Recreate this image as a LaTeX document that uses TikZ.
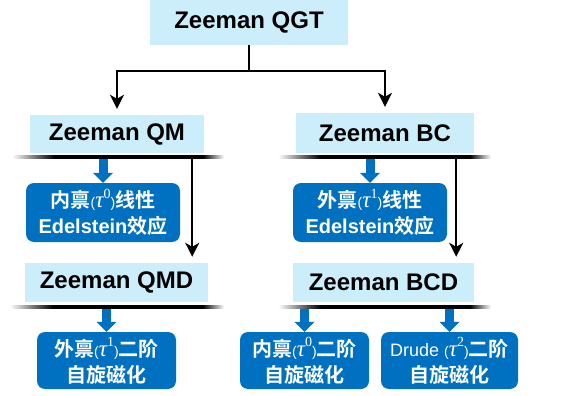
\documentclass[tikz,border=0pt]{standalone}
\usepackage{fontspec}
\setmainfont{Liberation Sans}
\newfontfamily\cjk{Noto Sans CJK SC}[BoldFont={Noto Sans CJK SC Bold}]
\newfontfamily\greek{Liberation Serif}
\usetikzlibrary{arrows.meta}
\definecolor{paleblue}{RGB}{204,238,251}
\definecolor{boxblue}{RGB}{0,112,192}
% bar fading out at both ends (path box = 25bp..75bp)
\pgfdeclarehorizontalshading{fadebar}{100bp}{color(0bp)=(white); color(25bp)=(white); color(35bp)=(black); color(70bp)=(black); color(75bp)=(white); color(100bp)=(white)}

\begin{document}
\begin{tikzpicture}[x=1pt, y=-1pt,
  head/.style={fill=paleblue, text=black, inner sep=0pt,
    font=\bfseries\fontsize{24}{28}\selectfont},
  effect/.style={fill=boxblue, text=white, rounded corners=8pt, inner sep=0pt,
    align=center, font=\bfseries\fontsize{20}{26}\selectfont},
  bar/.style={shade, shading=fadebar, minimum height=3.5pt, inner sep=0pt},
  link/.style={line width=2pt, -{Stealth[length=14pt, width=14pt, inset=4pt]}},
  push/.style={draw=boxblue, line width=9pt,
    -{Triangle[length=10pt, width=20pt, line width=0pt]}},
]
\useasboundingbox (0,0) rectangle (579,396);

% GLOBAL SETTINGS
\newcommand{\tpar}[1]{{\mdseries\fontsize{14}{16}\selectfont(}{\greek\mdseries\itshape\fontsize{23}{26}\selectfont τ\raisebox{0.42em}{\upshape\fontsize{14}{16}\selectfont #1}}{\mdseries\fontsize{14}{16}\selectfont)}}

% HEADS
\node[head, minimum width=198pt, minimum height=45pt] (qgt) at (249,22.5) {Zeeman QGT};
\node[head, minimum width=174pt, minimum height=38pt] (qm) at (117,134) {Zeeman QM};
\node[head, minimum width=178pt, minimum height=40pt] (bc) at (385,133) {Zeeman BC};
\node[head, minimum width=183pt, minimum height=39pt] (qmd) at (116.5,282.5) {Zeeman QMD};
\node[head, minimum width=181pt, minimum height=39pt] (bcd) at (383.5,282.5) {Zeeman BCD};

% BARS
\node[bar, minimum width=212pt] (qmbar) at (118,157) {};
\node[bar, minimum width=213pt] (bcbar) at (384.5,157) {};
\node[bar, minimum width=214pt] (qmdbar) at (117,307) {};
\node[bar, minimum width=213pt] (bcdbar) at (384.5,307) {};

% EFFECTS
\node[effect, minimum width=154pt, minimum height=59pt] (e0) at (103,212.5)
  {{\cjk 内禀}\tpar{0}{\cjk 线性}\\Edelstein{\cjk 效应}};
\node[effect, minimum width=154pt, minimum height=59pt] (e1) at (370,212.5)
  {{\cjk 外禀}\tpar{1}{\cjk 线性}\\Edelstein{\cjk 效应}};
\node[effect, minimum width=139pt, minimum height=57pt] (m1) at (106.5,360.5)
  {{\cjk 外禀}\tpar{1}{\cjk 二阶}\\{\cjk 自旋磁化}};
\node[effect, minimum width=129pt, minimum height=57pt] (m0) at (304.5,360.5)
  {{\cjk 内禀}\tpar{0}{\cjk 二阶}\\{\cjk 自旋磁化}};
\node[effect, minimum width=137pt, minimum height=57pt] (m2) at (449.5,360.5)
  {{\mdseries\fontsize{18}{26}\selectfont Drude }\tpar{2}{\cjk 二阶}\\{\cjk 自旋磁化}};

% EDGES
\coordinate (split) at (249,71);
\draw[link, shorten >=6pt] (qgt.south) -- (split) -| (qm.north);
\draw[link, shorten >=6pt] (split) -| (bc.north);
\draw[link, shorten >=6pt] ([xshift=-32pt]qmbar.east) -- ([xshift=-32pt]qmbar.east |- qmd.north);
\draw[link, shorten >=6pt] ([xshift=-35pt]bcbar.east) -- ([xshift=-35pt]bcbar.east |- bcd.north);
\draw[push] (qmbar.south -| e0.north) -- (e0.north);
\draw[push] (bcbar.south -| e1.north) -- (e1.north);
\draw[push] (qmdbar.south -| m1.north) -- (m1.north);
\draw[push] (bcdbar.south -| m0.north) -- (m0.north);
\draw[push] (bcdbar.south -| m2.north) -- (m2.north);

\end{tikzpicture}
\end{document}
